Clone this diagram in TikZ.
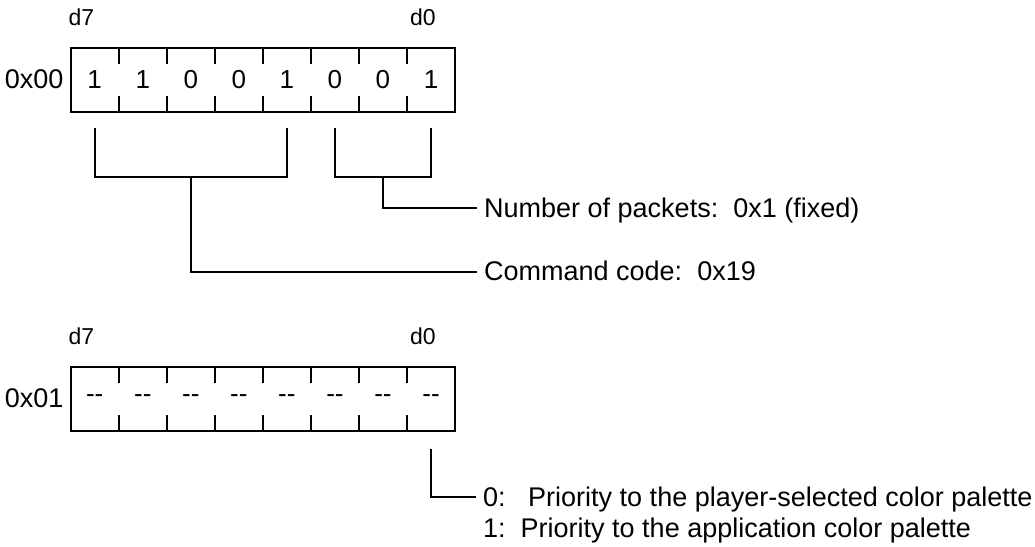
\documentclass[tikz,border=0pt]{standalone}
\usepackage{fontspec}
\setmainfont{Liberation Sans}
\usepackage{tikz}
\usetikzlibrary{positioning, calc}
\tikzset{
  regbox/.style={rectangle, draw=black, line width=2pt, minimum width=384.3pt,
    minimum height=64pt, inner sep=0pt, outer sep=0pt},
  bit/.style={rectangle, minimum width=48.04pt, minimum height=64pt,
    inner sep=0pt, outer sep=0pt, font=\fontsize{26}{31}\selectfont},
  txt/.style={inner sep=0pt, text height=18.5pt, text depth=0pt,
    font=\fontsize{27}{32}\selectfont},
  lbl/.style={txt, anchor=west, inner xsep=7pt},
  dtxt/.style={inner sep=0pt, font=\fontsize{23}{27}\selectfont},
  tick/.style={line width=2pt},
  line/.style={line width=2pt, color=black}
}

\begin{document}
\begin{tikzpicture}[x=1pt, y=-1pt]
  \useasboundingbox (0,0) rectangle (1035,546);
  % Register 0x00
  \node[regbox] (reg0) at (262.85,79.7) {};
  \node[txt, left=7pt of reg0] (addr0) {0x00};
  \node[dtxt, anchor=base west] (hi0) at ($(reg0.north west)+(-2.4,-22.7)$) {d7};
  \node[dtxt, anchor=base west] (lo0) at ($(reg0.north west)+(339.3,-22.7)$) {d0};
  \foreach \v [count=\i] in {1,1,0,0,1,0,0,1}
    \node[bit] (a\i) at ($(reg0.west)+(48.04*\i-24.02,0)$) {\v};
  \foreach \i in {1,...,7} {
    \draw[tick] (a\i.north east) -- ++(0,16);
    \draw[tick] (a\i.south east) -- ++(0,-16);
  }
  % Register 0x01
  \node[regbox, below=255pt of reg0] (reg1) {};
  \node[txt, left=7pt of reg1] (addr1) {0x01};
  \node[dtxt, anchor=base west] (hi1) at ($(reg1.north west)+(-2.4,-22.7)$) {d7};
  \node[dtxt, anchor=base west] (lo1) at ($(reg1.north west)+(339.3,-22.7)$) {d0};
  \foreach \i in {1,...,8}
    \node[bit] (b\i) at ($(reg1.west)+(48.04*\i-24.02,0)$) {-{}-};
  \foreach \i in {1,...,7} {
    \draw[tick] (b\i.north east) -- ++(0,16);
    \draw[tick] (b\i.south east) -- ++(0,-16);
  }
  % Field labels
  \node[lbl] (pkts) at (477,208.3) {Number of packets:\ \ 0x1 (fixed)};
  \node[lbl] (cmd) at (477,271.7) {Command code:\ \ 0x19};
  \node[lbl] (prio0) at (476,497.3) {0:\ \ \ Priority to the player-selected color palette};
  \node[lbl] (prio1) at ($(prio0.west)+(0,31)$) {1:\ \ Priority to the application color palette};
  % Brackets
  \draw[line] ($(a1.south)+(0,16.3)$) |- ($(a5.south)+(0,65)$) -- ++(0,-48.7);
  \draw[line] ($(a6.south)+(0,16.3)$) |- ($(a8.south)+(0,65)$) -- ++(0,-48.7);
  \coordinate (cmdfork) at ($(a3.south)+(0,65)$);
  \coordinate (pktfork) at ($(a7.south)+(0,65)$);
  \draw[line] (cmdfork) |- (cmd.west);
  \draw[line] (pktfork) |- (pkts.west);
  \draw[line] ($(b8.south)+(0,18.3)$) |- (prio0.west);
\end{tikzpicture}
\end{document}
